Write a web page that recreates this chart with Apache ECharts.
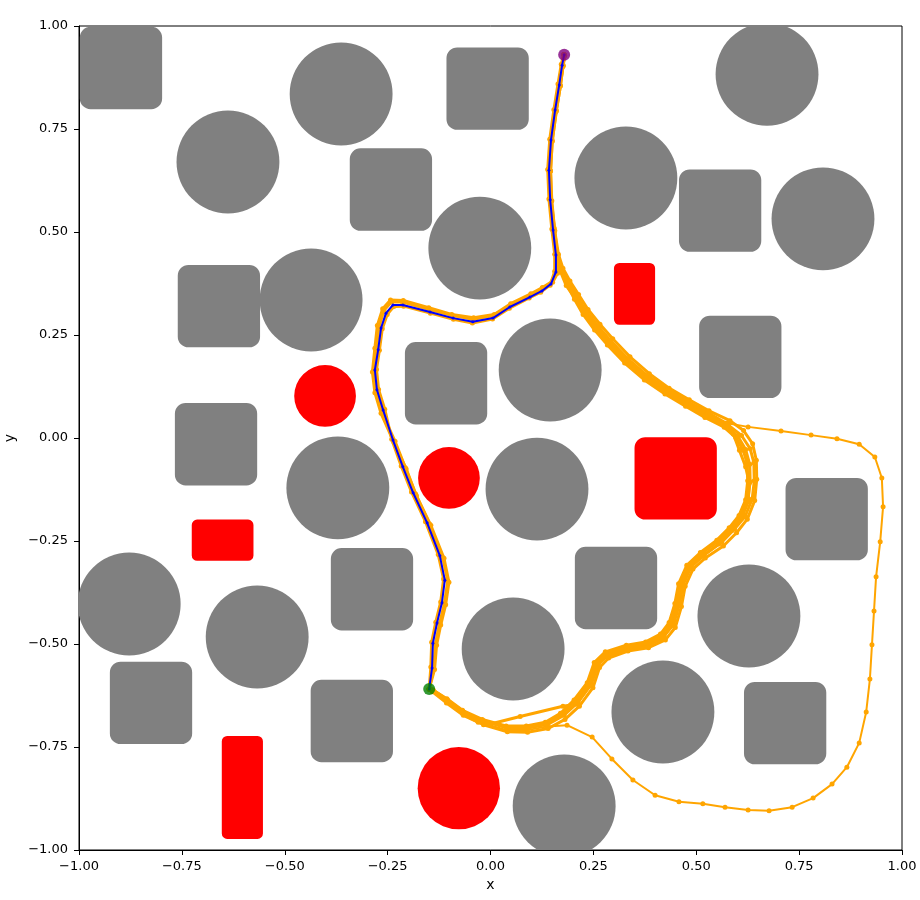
<!DOCTYPE html>
<html>
<head>
<meta charset="utf-8">
<script src="https://cdn.jsdelivr.net/npm/echarts@6/dist/echarts.min.js"></script>
<style>html,body{margin:0;padding:0;background:#fff}#c{width:920px;height:900px}</style>
</head>
<body>
<div id="c"></div>
<script>
// ---- data ----
const axisTicks = [-1, -0.75, -0.5, -0.25, 0, 0.25, 0.5, 0.75, 1];

const grayCircles = [[-0.363,0.835,0.125],[-0.638,0.670,0.125],[0.672,0.883,0.125],[0.329,0.631,0.125],[0.808,0.532,0.125],[-0.026,0.461,0.125],[-0.436,0.335,0.125],[0.145,0.165,0.125],[-0.371,-0.121,0.125],[0.113,-0.124,0.125],[-0.878,-0.403,0.125],[-0.567,-0.483,0.125],[0.055,-0.512,0.125],[0.628,-0.432,0.125],[0.419,-0.665,0.125],[0.179,-0.893,0.125]];

const graySquares = [[-0.898,0.898,0.2,0.2],[-0.007,0.848,0.2,0.2],[-0.242,0.603,0.2,0.2],[0.558,0.552,0.2,0.2],[-0.660,0.320,0.2,0.2],[0.607,0.197,0.2,0.2],[-0.108,0.133,0.2,0.2],[-0.667,-0.015,0.2,0.2],[0.817,-0.197,0.2,0.2],[-0.288,-0.367,0.2,0.2],[0.305,-0.364,0.2,0.2],[-0.825,-0.643,0.2,0.2],[-0.337,-0.687,0.2,0.2],[0.716,-0.692,0.2,0.2]];

const redCircles = [[-0.402,0.102,0.075],[-0.101,-0.097,0.075],[-0.077,-0.850,0.100]];

const redRects = [[0.350,0.350,0.10,0.15],[0.450,-0.098,0.20,0.20],[-0.651,-0.248,0.15,0.10],[-0.603,-0.848,0.10,0.25]];

const bluePath = [[0.179,0.930],[0.174,0.905],[0.167,0.857],[0.157,0.796],[0.147,0.723],[0.142,0.650],[0.145,0.578],[0.152,0.505],[0.159,0.444],[0.159,0.403],[0.147,0.374],[0.125,0.357],[0.096,0.342],[0.047,0.318],[0.006,0.291],[-0.043,0.282],[-0.091,0.291],[-0.147,0.306],[-0.213,0.323],[-0.237,0.323],[-0.254,0.303],[-0.266,0.267],[-0.273,0.214],[-0.281,0.165],[-0.276,0.117],[-0.261,0.068],[-0.237,-0.005],[-0.213,-0.070],[-0.188,-0.133],[-0.154,-0.206],[-0.123,-0.286],[-0.111,-0.345],[-0.118,-0.400],[-0.130,-0.449],[-0.140,-0.498],[-0.142,-0.558],[-0.149,-0.609]];

const orangeL1 = [[0.180,0.928],[0.176,0.902],[0.170,0.855],[0.160,0.794],[0.150,0.720],[0.146,0.648],[0.148,0.576],[0.156,0.503],[0.163,0.442],[0.163,0.400],[0.151,0.378],[0.128,0.362],[0.099,0.347],[0.050,0.323],[0.007,0.297],[-0.042,0.288],[-0.092,0.297],[-0.148,0.312],[-0.214,0.330],[-0.240,0.331],[-0.259,0.310],[-0.271,0.270],[-0.278,0.214],[-0.284,0.163],[-0.279,0.113],[-0.264,0.063],[-0.232,-0.008],[-0.207,-0.072],[-0.182,-0.136],[-0.148,-0.209],[-0.116,-0.290],[-0.104,-0.347],[-0.112,-0.402],[-0.124,-0.451],[-0.134,-0.500],[-0.138,-0.560],[-0.149,-0.609]];

const orangeL2 = [[0.178,0.931],[0.172,0.907],[0.164,0.859],[0.154,0.797],[0.144,0.725],[0.139,0.652],[0.142,0.580],[0.149,0.507],[0.156,0.446],[0.156,0.405],[0.145,0.371],[0.122,0.354],[0.094,0.340],[0.046,0.315],[0.005,0.289],[-0.044,0.279],[-0.090,0.288],[-0.146,0.303],[-0.211,0.320],[-0.235,0.319],[-0.251,0.300],[-0.263,0.265],[-0.270,0.213],[-0.277,0.166],[-0.272,0.118],[-0.257,0.070],[-0.240,-0.003],[-0.217,-0.068],[-0.192,-0.131],[-0.158,-0.203],[-0.127,-0.283],[-0.114,-0.342],[-0.121,-0.398],[-0.133,-0.447],[-0.143,-0.496],[-0.145,-0.556],[-0.149,-0.609]];

const orangeL3 = [[0.180,0.929],[0.177,0.904],[0.168,0.853],[0.159,0.792],[0.149,0.726],[0.143,0.654],[0.147,0.574],[0.155,0.509],[0.161,0.440],[0.162,0.408],[0.150,0.380],[0.126,0.365],[0.098,0.350],[0.049,0.326],[0.009,0.300],[-0.041,0.292],[-0.094,0.300],[-0.150,0.316],[-0.212,0.334],[-0.243,0.335],[-0.262,0.314],[-0.275,0.273],[-0.281,0.218],[-0.287,0.160],[-0.281,0.110],[-0.266,0.060],[-0.235,-0.010],[-0.205,-0.075],[-0.180,-0.140],[-0.145,-0.212],[-0.113,-0.292],[-0.101,-0.350],[-0.109,-0.405],[-0.121,-0.454],[-0.131,-0.503],[-0.136,-0.562],[-0.149,-0.609]];

const orangeR1 = [[0.179,0.930],[0.175,0.904],[0.168,0.856],[0.158,0.795],[0.149,0.722],[0.144,0.649],[0.147,0.577],[0.154,0.504],[0.164,0.443],[0.172,0.405],[0.186,0.372],[0.204,0.337],[0.225,0.300],[0.253,0.262],[0.284,0.226],[0.326,0.182],[0.374,0.141],[0.424,0.107],[0.474,0.077],[0.521,0.050],[0.568,0.026],[0.596,0.001],[0.614,-0.030],[0.624,-0.062],[0.625,-0.104],[0.620,-0.150],[0.604,-0.188],[0.580,-0.218],[0.550,-0.248],[0.510,-0.278],[0.477,-0.309],[0.457,-0.354],[0.448,-0.402],[0.434,-0.448],[0.413,-0.476],[0.377,-0.495],[0.330,-0.503],[0.279,-0.519],[0.252,-0.545],[0.235,-0.594],[0.203,-0.636],[0.170,-0.668],[0.133,-0.690],[0.087,-0.699],[0.038,-0.699],[-0.020,-0.683],[-0.068,-0.661],[-0.106,-0.633],[-0.140,-0.612],[-0.149,-0.609]];

const orangeR2 = [[0.180,0.929],[0.176,0.903],[0.170,0.855],[0.160,0.794],[0.150,0.721],[0.146,0.648],[0.149,0.576],[0.156,0.503],[0.165,0.446],[0.176,0.412],[0.193,0.381],[0.214,0.348],[0.237,0.312],[0.266,0.276],[0.297,0.241],[0.339,0.197],[0.386,0.156],[0.434,0.121],[0.483,0.093],[0.531,0.066],[0.582,0.042],[0.615,0.018],[0.637,-0.014],[0.646,-0.054],[0.647,-0.100],[0.642,-0.152],[0.624,-0.197],[0.598,-0.230],[0.566,-0.262],[0.522,-0.291],[0.492,-0.318],[0.473,-0.360],[0.464,-0.409],[0.449,-0.460],[0.425,-0.490],[0.384,-0.509],[0.334,-0.517],[0.287,-0.534],[0.265,-0.557],[0.249,-0.606],[0.216,-0.651],[0.181,-0.683],[0.140,-0.705],[0.090,-0.714],[0.041,-0.713],[-0.017,-0.696],[-0.066,-0.673],[-0.107,-0.643],[-0.141,-0.616],[-0.149,-0.609]];

const orangeR3 = [[0.178,0.931],[0.173,0.906],[0.166,0.858],[0.156,0.797],[0.146,0.724],[0.141,0.651],[0.144,0.579],[0.151,0.506],[0.161,0.445],[0.170,0.409],[0.189,0.378],[0.209,0.345],[0.232,0.309],[0.261,0.272],[0.292,0.236],[0.334,0.192],[0.382,0.151],[0.431,0.117],[0.480,0.088],[0.529,0.061],[0.572,0.036],[0.590,0.010],[0.605,-0.030],[0.620,-0.070],[0.629,-0.110],[0.626,-0.155],[0.610,-0.195],[0.586,-0.225],[0.555,-0.257],[0.515,-0.287],[0.482,-0.316],[0.462,-0.360],[0.453,-0.408],[0.438,-0.457],[0.417,-0.487],[0.379,-0.505],[0.331,-0.513],[0.282,-0.530],[0.257,-0.553],[0.240,-0.602],[0.208,-0.646],[0.176,-0.651],[0.072,-0.676],[0.000,-0.694],[-0.030,-0.690],[-0.067,-0.669],[-0.105,-0.640],[-0.140,-0.614],[-0.149,-0.609]];

const orangeR4 = [[0.179,0.930],[0.175,0.905],[0.167,0.857],[0.157,0.796],[0.148,0.723],[0.143,0.650],[0.146,0.578],[0.153,0.505],[0.163,0.444],[0.173,0.407],[0.190,0.374],[0.211,0.340],[0.233,0.304],[0.262,0.267],[0.293,0.231],[0.335,0.187],[0.383,0.146],[0.432,0.112],[0.481,0.083],[0.529,0.056],[0.578,0.031],[0.610,0.006],[0.631,-0.026],[0.640,-0.060],[0.641,-0.104],[0.636,-0.148],[0.619,-0.190],[0.593,-0.221],[0.562,-0.253],[0.520,-0.283],[0.488,-0.312],[0.468,-0.356],[0.459,-0.404],[0.445,-0.452],[0.422,-0.481],[0.383,-0.500],[0.335,-0.508],[0.286,-0.525],[0.262,-0.549],[0.245,-0.598],[0.213,-0.641],[0.179,-0.673],[0.139,-0.695],[0.091,-0.704],[0.042,-0.704],[-0.016,-0.687],[-0.065,-0.665],[-0.104,-0.636],[-0.139,-0.612],[-0.149,-0.609]];

const orangeR5 = [[0.178,0.930],[0.174,0.905],[0.166,0.856],[0.156,0.795],[0.147,0.722],[0.142,0.649],[0.145,0.577],[0.152,0.504],[0.160,0.443],[0.170,0.404],[0.184,0.370],[0.206,0.339],[0.228,0.303],[0.256,0.266],[0.287,0.230],[0.329,0.186],[0.377,0.145],[0.427,0.110],[0.476,0.081],[0.523,0.054],[0.572,0.030],[0.601,0.004],[0.620,-0.028],[0.630,-0.064],[0.631,-0.106],[0.626,-0.146],[0.610,-0.187],[0.585,-0.219],[0.553,-0.251],[0.512,-0.281],[0.481,-0.311],[0.461,-0.352],[0.452,-0.401],[0.437,-0.450],[0.415,-0.479],[0.378,-0.498],[0.330,-0.506],[0.281,-0.523],[0.255,-0.548],[0.238,-0.597],[0.206,-0.640],[0.172,-0.672],[0.134,-0.694],[0.088,-0.703],[0.039,-0.703],[-0.019,-0.686],[-0.068,-0.664],[-0.107,-0.636],[-0.141,-0.611],[-0.149,-0.609]];

const orangeOut = [[0.179,0.930],[0.174,0.905],[0.167,0.857],[0.157,0.796],[0.147,0.723],[0.142,0.650],[0.145,0.578],[0.152,0.505],[0.162,0.444],[0.171,0.408],[0.188,0.376],[0.208,0.342],[0.230,0.306],[0.259,0.269],[0.290,0.233],[0.332,0.189],[0.380,0.148],[0.429,0.114],[0.478,0.085],[0.526,0.058],[0.575,0.036],[0.626,0.027],[0.706,0.017],[0.779,0.007],[0.842,-0.002],[0.896,-0.015],[0.934,-0.046],[0.951,-0.097],[0.954,-0.167],[0.947,-0.252],[0.937,-0.337],[0.932,-0.420],[0.927,-0.502],[0.922,-0.585],[0.913,-0.665],[0.896,-0.740],[0.866,-0.799],[0.830,-0.840],[0.784,-0.874],[0.733,-0.896],[0.677,-0.905],[0.626,-0.903],[0.570,-0.896],[0.516,-0.888],[0.458,-0.883],[0.400,-0.867],[0.346,-0.830],[0.295,-0.779],[0.247,-0.726],[0.186,-0.697],[0.137,-0.700],[0.089,-0.709],[0.040,-0.709],[-0.018,-0.692],[-0.067,-0.669],[-0.106,-0.640],[-0.140,-0.614],[-0.149,-0.609]];

const startPoint = [[0.179,0.930]];
const goalPoint = [[-0.149,-0.609]];

// ---- chart ----
const chart = echarts.init(document.getElementById('c'), null, {renderer: 'canvas'});

function circleItem(color) {
  return function (params, api) {
    const c = api.coord([api.value(0), api.value(1)]);
    const s = api.size([api.value(2), api.value(2)]);
    return {type: 'circle', shape: {cx: c[0], cy: c[1], r: s[0]}, style: {fill: color}};
  };
}
function rectItem(color) {
  return function (params, api) {
    const x = api.value(0), y = api.value(1), w = api.value(2), h = api.value(3);
    const c = api.coord([x - w / 2, y + h / 2]);
    const s = api.size([w, h]);
    return {type: 'rect', shape: {x: c[0], y: c[1], width: s[0], height: s[1], r: Math.min(s[0], s[1]) * 0.13}, style: {fill: color}};
  };
}
function fmt(v) {
  return v.toFixed(2).replace('-', '\u2212');
}
function orange(data, w) {
  return {
    type: 'line', data: data, z: 5, symbol: 'circle', symbolSize: 5, showSymbol: true,
    lineStyle: {color: '#FFA500', width: w}, itemStyle: {color: '#FFA500'},
    silent: true, clip: true
  };
}

const axisCommon = {
  type: 'value', min: -1, max: 1, interval: 0.25,
  splitLine: {show: false},
  axisLine: {show: true, onZero: false, lineStyle: {color: '#000', width: 1}},
  axisTick: {show: true, inside: false, length: 5, lineStyle: {color: '#000', width: 1}},
  nameLocation: 'middle',
  nameTextStyle: {color: '#000', fontSize: 14, fontFamily: 'DejaVu Sans'}
};

chart.setOption({
  animation: false,
  backgroundColor: '#fff',
  grid: {left: 79, right: 18, top: 26, bottom: 50, containLabel: false, outerBoundsMode: 'none',
         show: true, borderColor: '#000', borderWidth: 1, backgroundColor: 'transparent'},
  xAxis: Object.assign({}, axisCommon, {
    name: 'x', nameGap: 28,
    axisLabel: {color: '#000', fontSize: 13, fontFamily: 'DejaVu Sans', margin: 10, formatter: fmt}
  }),
  yAxis: Object.assign({}, axisCommon, {
    name: 'y', nameGap: 58,
    axisLabel: {color: '#000', fontSize: 13, fontFamily: 'DejaVu Sans', margin: 11, formatter: fmt}
  }),
  series: [
    {type: 'custom', data: grayCircles, renderItem: circleItem('#808080'), clip: true, z: 1, silent: true},
    {type: 'custom', data: graySquares, renderItem: rectItem('#808080'), clip: true, z: 1, silent: true},
    {type: 'custom', data: redCircles, renderItem: circleItem('#FF0000'), clip: true, z: 1, silent: true},
    {type: 'custom', data: redRects, renderItem: rectItem('#FF0000'), clip: true, z: 1, silent: true},
    orange(orangeOut, 2),
    orange(orangeR1, 3), orange(orangeR2, 3), orange(orangeR3, 3), orange(orangeR4, 3), orange(orangeR5, 3),
    orange(orangeL1, 3), orange(orangeL2, 3), orange(orangeL3, 3),
    {type: 'line', data: bluePath, z: 6, symbol: 'circle', symbolSize: 3, showSymbol: true,
     lineStyle: {color: '#0000FF', width: 2}, itemStyle: {color: '#0000FF'}, silent: true},
    {type: 'scatter', data: startPoint, z: 7, symbolSize: 12, itemStyle: {color: '#800080'}, silent: true},
    {type: 'scatter', data: goalPoint, z: 7, symbolSize: 12, itemStyle: {color: '#008000'}, silent: true}
  ]
});
</script>
</body>
</html>
